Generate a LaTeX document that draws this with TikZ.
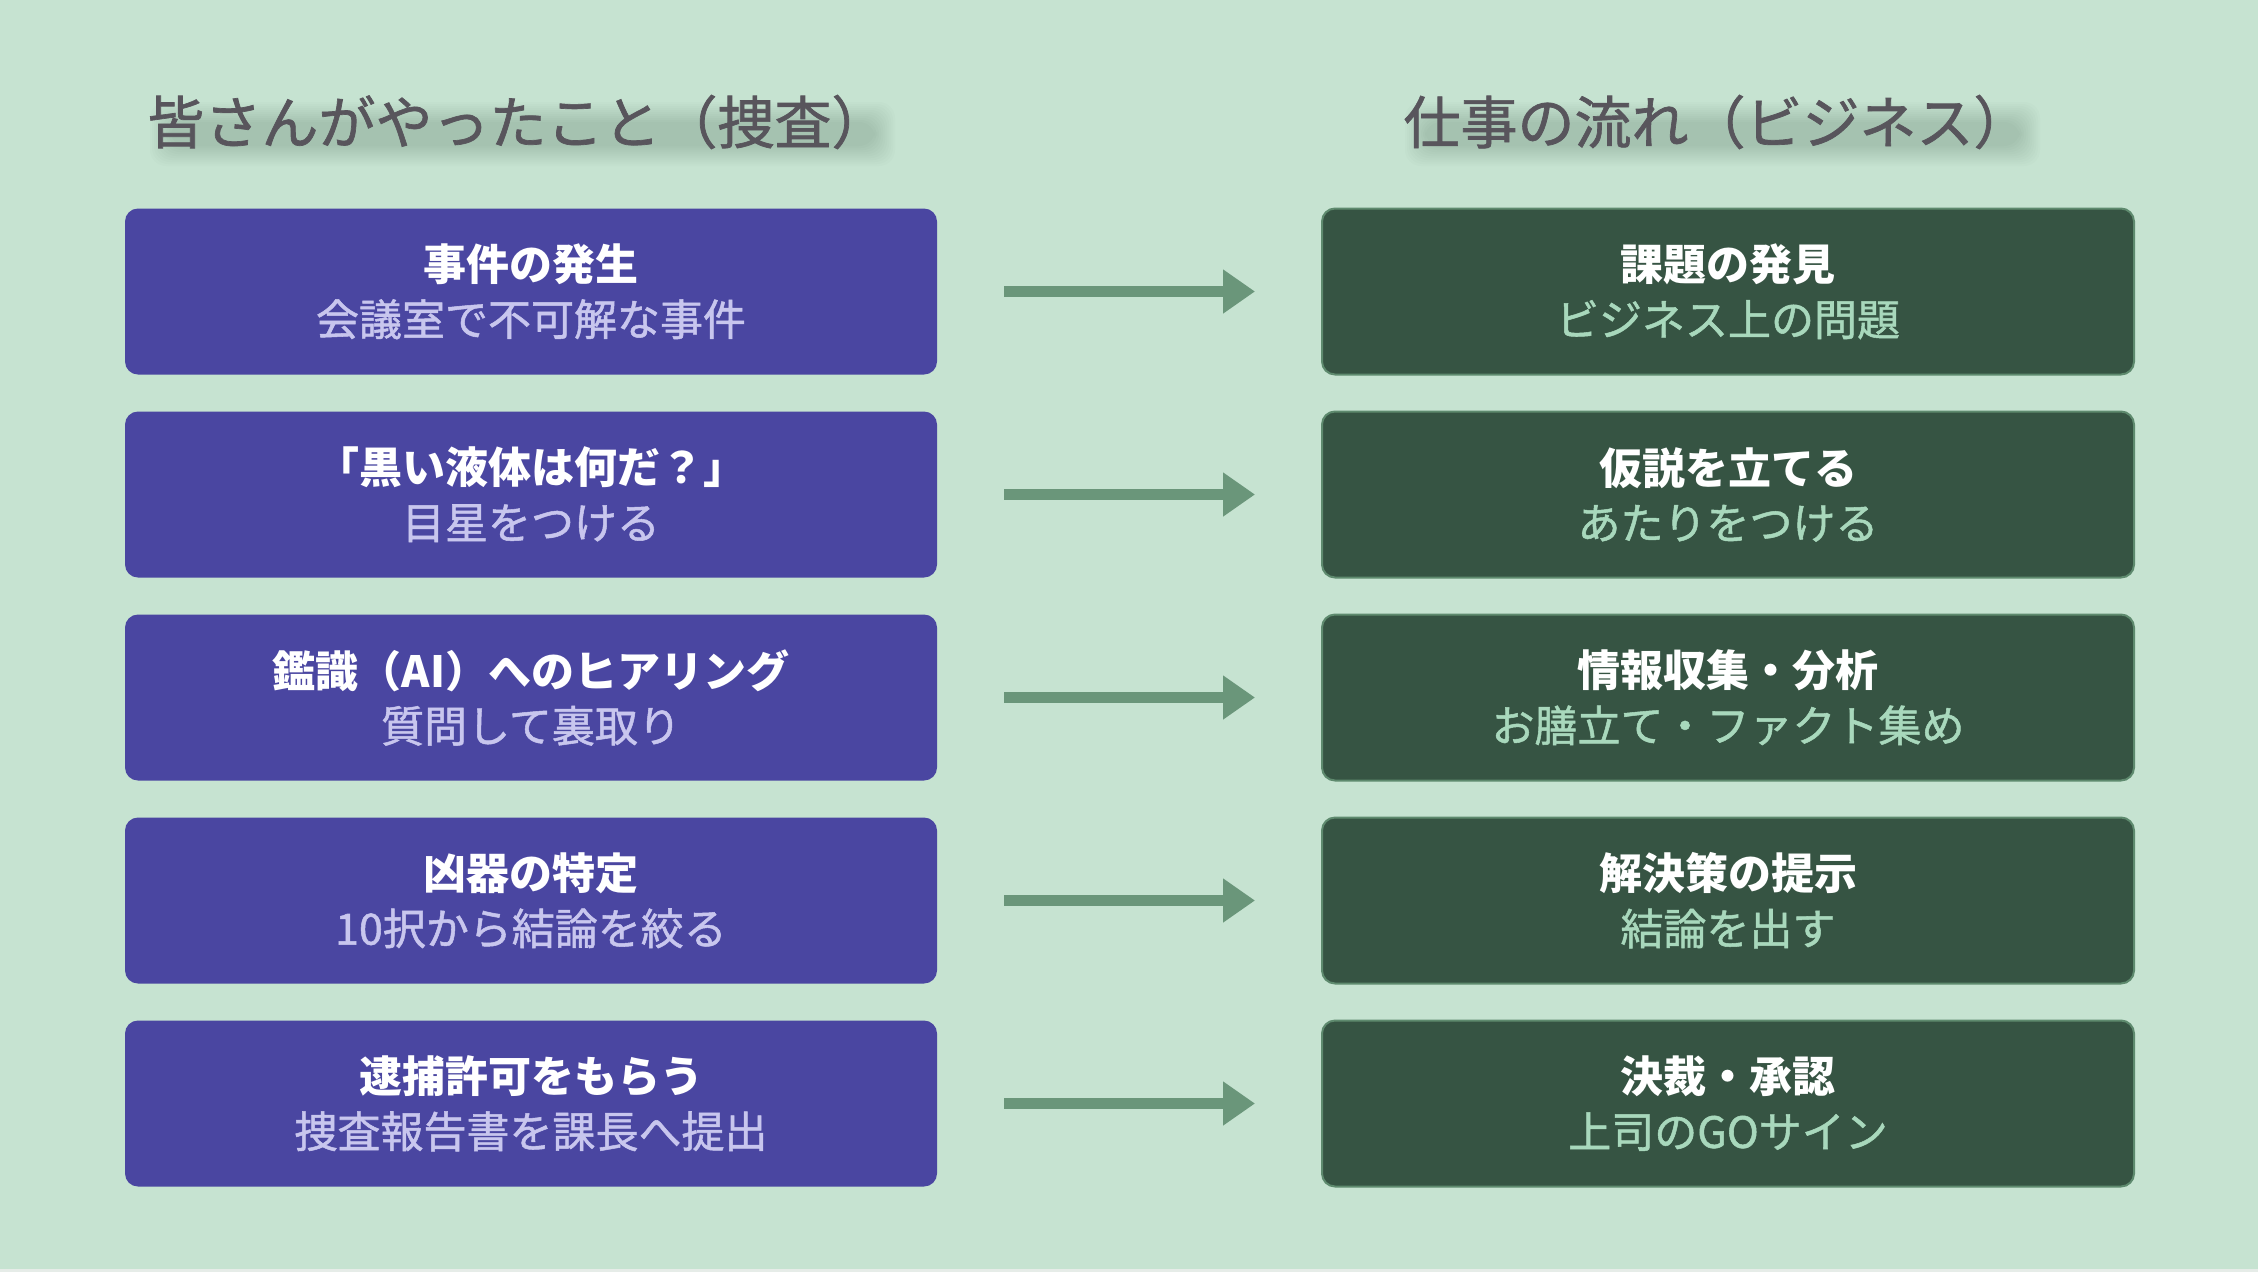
\documentclass[tikz,border=0pt]{standalone}
\usepackage{fontspec}
\newfontfamily\jp{Noto Sans CJK JP}
\newfontfamily\jpm[FakeBold=1.2]{Noto Sans CJK JP}
\usetikzlibrary{arrows.meta}
\definecolor{bg}{HTML}{C6E3D1}
\definecolor{titlec}{HTML}{58555C}
\definecolor{leftfill}{HTML}{4A46A1}
\definecolor{leftsub}{HTML}{C8C6EE}
\definecolor{rightfill}{HTML}{365443}
\definecolor{rightedge}{HTML}{5E8A6E}
\definecolor{rightsub}{HTML}{A8D8BC}
\definecolor{arrowc}{HTML}{6A967A}
\definecolor{shadowc}{HTML}{3E5A48}
\tikzset{
  titletext/.style={font=\jpm\mdseries\fontsize{57}{60}\selectfont, text=titlec, inner sep=0pt},
  shadowband/.style={fill=shadowc, fill opacity=0.018, draw=none},
  boxbase/.style={minimum width=812pt, minimum height=166pt, rounded corners=13pt, align=center,
    font=\jp\fontsize{43}{55}\selectfont, inner sep=0pt},
  leftbox/.style={boxbase, fill=leftfill, text=white},
  rightbox/.style={boxbase, fill=rightfill, draw=rightedge, line width=2pt, text=white},
  flowarrow/.style={draw=arrowc, line width=10.5pt, -{Triangle[length=32pt,width=42pt]},
    shorten <=67pt, shorten >=66pt}
}
\newcommand{\subl}[1]{{\jpm\mdseries\color{leftsub}#1}}
\newcommand{\subr}[1]{{\jpm\mdseries\color{rightsub}#1}}
\begin{document}
\begin{tikzpicture}[x=1pt,y=-1pt]
\useasboundingbox (0,0) rectangle (2258,1272);
\fill[bg] (0,0) rectangle (2258,1272);
\fill[color={rgb,255:red,230;green,236;blue,232}] (0,1269) rectangle (2258,1272);

% soft title shadows
\foreach \e in {0,2,...,20}{
  \fill[shadowband, rounded corners=16pt] (170-\e,122-\e) rectangle (875+\e,146+\e);
  \fill[shadowband, rounded corners=16pt] (1425-\e,122-\e) rectangle (2020+\e,146+\e);
}
\node[titletext] (tl) at (518,122) {皆さんがやったこと（捜査）};
\node[titletext] (tr) at (1717,122) {仕事の流れ（ビジネス）};

% left column
\node[leftbox] (l1) at (531,291.5) {\bfseries 事件の発生\\\subl{会議室で不可解な事件}};
\node[leftbox] (l2) at (531,494.5) {\bfseries 「黒い液体は何だ？」\\\subl{目星をつける}};
\node[leftbox] (l3) at (531,697.5) {\bfseries 鑑識（AI）へのヒアリング\\\subl{質問して裏取り}};
\node[leftbox] (l4) at (531,900.5) {\bfseries 凶器の特定\\\subl{10択から結論を絞る}};
\node[leftbox] (l5) at (531,1103.5) {\bfseries 逮捕許可をもらう\\\subl{捜査報告書を課長へ提出}};

% right column
\node[rightbox] (r1) at (1728,291.5) {\bfseries 課題の発見\\\subr{ビジネス上の問題}};
\node[rightbox] (r2) at (1728,494.5) {\bfseries 仮説を立てる\\\subr{あたりをつける}};
\node[rightbox] (r3) at (1728,697.5) {\bfseries 情報収集・分析\\\subr{お膳立て・ファクト集め}};
\node[rightbox] (r4) at (1728,900.5) {\bfseries 解決策の提示\\\subr{結論を出す}};
\node[rightbox] (r5) at (1728,1103.5) {\bfseries 決裁・承認\\\subr{上司のGOサイン}};

% arrows
\foreach \i in {1,...,5}{
  \draw[flowarrow] (l\i.east) -- (r\i.west);
}
\end{tikzpicture}
\end{document}
